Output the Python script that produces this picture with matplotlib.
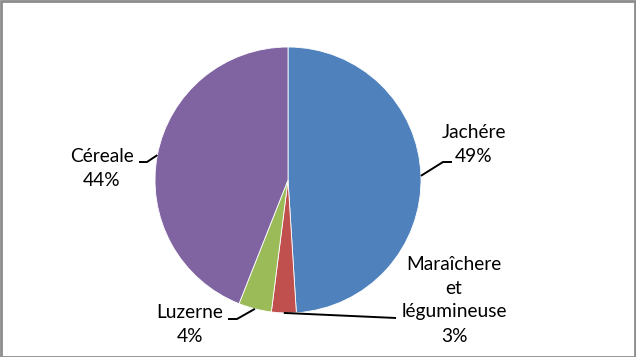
import matplotlib

matplotlib.use("Agg")

import matplotlib.pyplot as plt
import numpy as np
from matplotlib.patches import Rectangle

categories = ["Jachére", "Maraîchere\net\nlégumineuse", "Luzerne", "Céreale"]
values = [49, 3, 4, 44]
colors = ["#4f81bd", "#c0504d", "#9bbb59", "#8064a2"]

W, H = 636, 357
center = (288, H - 180)
radius = 133

# elbow / end of leader and label centre, in pixels (y from top)
leaders = [
    [(443, 162), (452, 162)],
    [(396, 318)],
    [(237, 319), (228, 319)],
    [(147, 162), (139, 162)],
]
label_pos = [(474, 144), (454, 300), (190, 325), (102, 169)]

plt.rcParams["font.family"] = ["Lato", "DejaVu Sans"]

fig = plt.figure(figsize=(W / 100, H / 100), dpi=100)
ax = fig.add_axes([0, 0, 1, 1])

ax.pie(
    values,
    colors=colors,
    startangle=90,
    counterclock=False,
    center=center,
    radius=radius,
    wedgeprops=dict(edgecolor="white", linewidth=0.6),
    frame=True,
)
ax.set_xlim(0, W)
ax.set_ylim(0, H)
ax.set_aspect("equal")
ax.axis("off")

total = sum(values)
cum = np.cumsum([0] + values)
for i, (cat, v) in enumerate(zip(categories, values)):
    mid = np.deg2rad(90 - 360 * (cum[i] + v / 2) / total)
    ax0 = center[0] + radius * np.cos(mid)
    ay0 = center[1] + radius * np.sin(mid)
    xs = [ax0] + [p[0] for p in leaders[i]]
    ys = [ay0] + [H - p[1] for p in leaders[i]]
    ax.plot(xs, ys, color="black", lw=1.4, solid_capstyle="butt")
    lx, ly = label_pos[i]
    ax.text(lx, H - ly, f"{cat}\n{v}%", ha="center", va="center",
            fontsize=13.8, linespacing=1.5, color="black")

fig.patches.append(Rectangle((0.5 / W, 0.5 / H), 1 - 2 / W, 1 - 1.5 / H,
                             transform=fig.transFigure, fill=False,
                             edgecolor="#8c8c8c", linewidth=2))

fig.savefig("out.png", dpi=100)
